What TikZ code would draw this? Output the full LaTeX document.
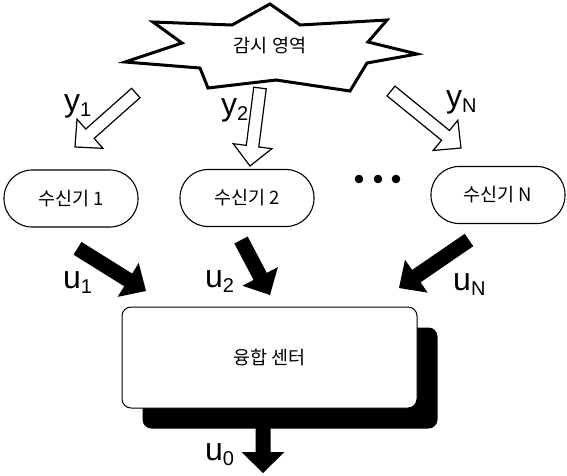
\documentclass[tikz,border=0pt]{standalone}
\usepackage{fontspec}
\setmainfont{Liberation Sans}
\newfontfamily\kr{Noto Sans CJK KR}
\usetikzlibrary{calc,shadows}

% block arrow: [style]{from}{to}{shaft half width}{head half width}{head length}
\newcommand\blockarrow[6][]{%
  \coordinate (ba-h) at ($(#3)!#6!(#2)$);
  \draw[#1] ($(#2)!#4!90:(#3)$) -- ($(ba-h)!#4!90:(#3)$) -- ($(ba-h)!#5!90:(#3)$)
    -- (#3) -- ($(ba-h)!#5!-90:(#3)$) -- ($(ba-h)!#4!-90:(#3)$)
    -- ($(#2)!#4!-90:(#3)$) -- cycle;
}
% signal name with subscript
\newcommand\sig[2]{{\fontsize{32}{32}\selectfont #1}\raisebox{-5pt}{\fontsize{20}{20}\selectfont #2}}

\tikzset{
  hollow/.style={draw=black, fill=white, line width=1.2pt, line join=miter},
  solid/.style={fill=black, draw=none},
  recv/.style={draw, line width=1.1pt, rounded corners=28pt, minimum width=134pt,
    minimum height=57pt, inner sep=0pt, font=\kr\fontsize{18.5}{20}\selectfont},
  fusion/.style={draw, fill=white, line width=1pt, rounded corners=9pt,
    minimum width=295pt, minimum height=101pt, inner sep=0pt,
    font=\kr\fontsize{18.5}{20}\selectfont,
    drop shadow={shadow xshift=20.5pt, shadow yshift=-20.5pt, fill=black, opacity=1}},
  lab/.style={inner sep=0pt, anchor=base west},
  dot/.style={circle, fill=black, inner sep=0pt, minimum size=8.6pt},
}

\begin{document}
\begin{tikzpicture}[x=1pt, y=-1pt]
\useasboundingbox (0,0) rectangle (567,475);

% monitored area (seven-pointed burst)
\draw[line width=3pt, line join=miter, miter limit=20]
  (270,4) -- (300,25) -- (387,20) -- (368,42) -- (417,54) -- (367,63)
  -- (350,91) -- (276,80) -- (208,88) -- (200,68)
  -- (125,62) -- (182,43) -- (153,22) -- (232,25) -- cycle;
\node[inner sep=0pt, font=\kr\fontsize{18.5}{20}\selectfont] (area) at (270,46) {감시 영역};

% receivers
\node[recv] (r1) at (71,198.5) {수신기 1};
\node[recv] (r2) at (247,198) {수신기 2};
\node[recv] (rN) at (498,195) {수신기 N};
\node[dot] (d1) at (359,179) {};
\node[dot] (d2) at (378,179) {};
\node[dot] (d3) at (396,179) {};

% observations
\coordinate (y1s) at (135.8,93);  \coordinate (y1e) at (75,147);
\coordinate (y2s) at (260,88);    \coordinate (y2e) at (250,166);
\coordinate (yNs) at (391,91);    \coordinate (yNe) at (461,148);
\blockarrow[hollow]{y1s}{y1e}{6.3pt}{19.5pt}{20pt}
\blockarrow[hollow]{y2s}{y2e}{6.3pt}{19.5pt}{20pt}
\blockarrow[hollow]{yNs}{yNe}{6.3pt}{19.5pt}{20pt}
\node[lab] (ly1) at (64,111) {\sig{y}{1}};
\node[lab] (ly2) at (221,115) {\sig{y}{2}};
\node[lab] (lyN) at (446,107) {\sig{y}{N}};

% fusion center
\node[fusion] (fc) at (269.5,357.5) {융합 센터};

% local decisions
\coordinate (u1s) at (77.5,248.3); \coordinate (u1e) at (146,291);
\coordinate (u2s) at (241,240);    \coordinate (u2e) at (270,295);
\coordinate (uNs) at (469,240);    \coordinate (uNe) at (399,288);
\blockarrow[solid]{u1s}{u1e}{7.5pt}{20pt}{21pt}
\blockarrow[solid]{u2s}{u2e}{7.5pt}{20pt}{21pt}
\blockarrow[solid]{uNs}{uNe}{7.5pt}{20pt}{21pt}
\node[lab] (lu1) at (63,288) {\sig{u}{1}};
\node[lab] (lu2) at (205,287) {\sig{u}{2}};
\node[lab] (luN) at (453,290) {\sig{u}{N}};

% global decision
\coordinate (u0s) at (263,424);  \coordinate (u0e) at (263,473);
\blockarrow[solid]{u0s}{u0e}{7.5pt}{21.5pt}{21pt}
\node[lab] (lu0) at (205,460) {\sig{u}{0}};
\end{tikzpicture}
\end{document}
